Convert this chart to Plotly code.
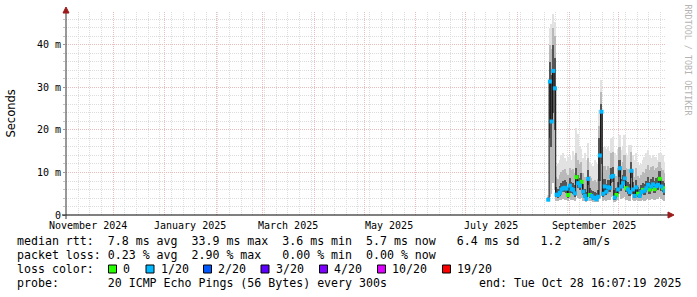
import plotly.graph_objects as go
import pandas as pd

# ---------------- data ----------------
start_day = "2025-08-19"
range_start = "2024-11-02 16:07:19"
range_end = "2025-10-28 16:07:19"

# daily median RTT (ms)
median_ms = [3.6, 31.4, 22.0, 33.9, 29.8, 4.8, 4.7, 5.2, 6.0, 6.3,
             6.4, 6.2, 4.7, 6.9, 6.1, 5.9, 5.1, 8.9, 7.5, 6.9,
             7.8, 5.5, 4.5, 3.8, 8.5, 4.7, 4.5, 4.1, 4.0, 3.7,
             4.3, 14.0, 24.3, 5.0, 6.7, 5.5, 6.5, 6.4, 9.0, 9.2,
             4.1, 4.7, 6.0, 11.0, 6.7, 7.5, 8.6, 6.3, 6.0, 5.4,
             10.4, 6.0, 4.5, 6.5, 5.0, 4.5, 5.4, 5.9, 5.7, 6.3,
             7.1, 6.0, 6.7, 7.2, 6.1, 6.8, 7.1, 8.5, 6.7, 6.3, 5.7]
# smoke: distribution of the individual pings (ms)
ping_min = [3.3, 4.2, 5.0, 7.5, 6.0, 3.4, 3.3, 3.5, 3.6, 3.7,
            3.6, 3.5, 3.2, 3.8, 3.6, 3.5, 3.3, 4.5, 4.0, 3.8,
            4.1, 3.4, 3.2, 3.1, 4.2, 3.2, 3.2, 3.1, 3.1, 3.0,
            3.1, 4.0, 4.5, 3.3, 3.6, 3.4, 3.6, 3.6, 4.3, 4.4,
            3.1, 3.2, 3.5, 5.0, 3.7, 3.9, 4.2, 3.6, 3.5, 3.4,
            4.7, 3.5, 3.2, 3.6, 3.3, 3.2, 3.4, 3.5, 3.4, 3.6,
            3.8, 3.5, 3.7, 3.8, 3.5, 3.7, 3.8, 4.2, 3.7, 3.6, 3.4]
ping_q25 = [3.4, 18.0, 16.0, 24.0, 20.0, 4.2, 4.1, 4.4, 5.0, 5.3,
            5.3, 5.2, 4.0, 5.8, 5.1, 5.0, 4.3, 7.5, 6.3, 5.8,
            6.6, 4.6, 3.9, 3.4, 7.0, 4.0, 3.9, 3.6, 3.5, 3.3,
            3.7, 8.0, 12.0, 4.2, 5.6, 4.6, 5.4, 5.3, 7.5, 7.7,
            3.6, 4.0, 5.0, 9.0, 5.6, 6.3, 7.2, 5.3, 5.0, 4.5,
            8.6, 5.0, 3.9, 5.4, 4.2, 3.9, 4.5, 4.9, 4.8, 5.3,
            6.0, 5.0, 5.6, 6.1, 5.1, 5.7, 6.0, 7.1, 5.6, 5.3, 4.8]
ping_q75 = [3.9, 36.0, 33.0, 40.0, 37.0, 6.5, 6.2, 6.8, 7.6, 8.0,
            8.2, 7.8, 6.5, 8.6, 7.8, 7.6, 7.0, 11.0, 9.5, 8.8,
            9.8, 7.2, 6.2, 5.5, 10.5, 6.4, 6.0, 5.6, 5.5, 5.2,
            5.8, 18.0, 26.0, 6.8, 8.5, 7.3, 8.3, 8.2, 11.0, 11.2,
            5.8, 6.3, 7.8, 13.0, 8.5, 9.4, 10.6, 8.0, 7.7, 7.2,
            12.4, 7.8, 6.1, 8.2, 6.7, 6.1, 7.1, 7.6, 7.4, 8.0,
            8.9, 7.8, 8.5, 9.0, 7.9, 8.6, 8.9, 10.3, 8.5, 8.0, 7.5]
ping_q90 = [4.3, 40.0, 39.0, 44.0, 42.0, 9.0, 8.5, 9.5, 10.2, 10.5,
            10.8, 10.0, 9.5, 11.0, 10.5, 10.8, 10.0, 14.5, 13.0, 12.0,
            12.5, 10.0, 9.0, 8.5, 13.5, 9.2, 8.8, 8.0, 8.2, 7.8,
            8.5, 21.0, 29.0, 10.0, 11.5, 10.5, 11.5, 11.0, 14.5, 14.8,
            9.0, 9.2, 11.0, 16.0, 11.5, 12.5, 14.0, 11.0, 10.8, 10.5,
            14.8, 10.5, 9.0, 11.0, 9.2, 8.8, 9.5, 10.2, 10.0, 10.8,
            11.8, 10.5, 11.2, 11.5, 10.5, 11.0, 11.2, 12.5, 11.0, 10.5, 10.0]
ping_max = [4.8, 44.0, 45.0, 47.3, 45.5, 11.5, 12.0, 13.0, 14.0, 14.5,
            13.5, 12.8, 13.6, 14.2, 13.0, 15.0, 14.0, 20.5, 19.0, 16.0,
            15.5, 13.5, 14.5, 13.0, 17.0, 12.5, 12.0, 11.6, 13.0, 12.5,
            12.0, 24.7, 31.8, 15.0, 16.1, 15.5, 16.1, 15.0, 18.0, 18.4,
            14.5, 14.1, 15.5, 18.8, 15.3, 16.0, 18.8, 14.5, 14.0, 16.5,
            16.5, 14.0, 13.0, 14.5, 12.5, 11.8, 12.0, 13.0, 13.7, 14.5,
            15.3, 14.0, 13.3, 14.0, 13.7, 13.7, 13.0, 14.5, 14.5, 14.0, 12.5]
# lost pings (out of 20) per step
loss_count = [1, 1, 1, 1, 1, 1, 1, 1, 1, 1,
              1, 1, 0, 1, 1, 1, 1, 0, 1, 1,
              0, 1, 1, 1, 1, 0, 1, 1, 1, 1,
              1, 1, 1, 1, 1, 1, 1, 1, 1, 1,
              1, 0, 1, 1, 1, 1, 1, 0, 1, 1,
              1, 1, 1, 1, 0, 1, 1, 0, 1, 1,
              1, 0, 1, 1, 0, 1, 1, 0, 1, 0, 1]

loss_buckets = ["0", "1/20", "2/20", "3/20", "4/20", "10/20", "19/20"]
loss_colors = ["#26ff00", "#00b8ff", "#0059ff", "#5e00ff", "#7e00ff", "#dd00ff", "#ff0000"]

y_tick_vals = [0, 10, 20, 30, 40]
y_tick_text = ["0", "10 m", "20 m", "30 m", "40 m"]
label_months = ["2024-11", "2025-01", "2025-03", "2025-05", "2025-07", "2025-09"]
label_texts = ["November 2024", "January 2025", "March 2025", "May 2025", "July 2025", "September 2025"]

legend_lines = [
    "median rtt:  7.8 ms avg  33.9 ms max  3.6 ms min  5.7 ms now   6.4 ms sd   1.2   am/s",
    "packet loss: 0.23 % avg  2.90 % max   0.00 % min  0.00 % now",
    "loss color:",
    "probe:       20 ICMP Echo Pings (56 Bytes) every 300s",
]
end_text = "end: Tue Oct 28 16:07:19 2025"

# ---------------- layout geometry ----------------
W, H = 697, 297
L, R, T, B = 66, 32, 12, 82
PW, PH = W - L - R, H - T - B
Y_MAX = 47.76


def px(x):
    return (x - L) / PW


def py(y):
    return (H - B - y) / PH


MONO = "DejaVu Sans Mono"
days = pd.date_range(start_day, periods=len(median_ms), freq="D") + pd.Timedelta(hours=12)
day_ms = 86400000

fig = go.Figure()


def smoke(lo, hi, color):
    fig.add_trace(go.Bar(
        x=days, y=[h - l for l, h in zip(lo, hi)], base=lo, width=day_ms,
        marker=dict(color=color, line=dict(width=0)), hoverinfo="skip", showlegend=False))


smoke(ping_min, ping_max, "#e2e2e2")
smoke(ping_min, ping_q90, "#b9b9b9")
smoke(ping_q25, ping_q75, "#555555")

fig.add_trace(go.Scatter(x=days, y=median_ms, mode="lines", line=dict(color="#101010", width=1, shape="hvh"),
                         hoverinfo="skip", showlegend=False))
for b, col in enumerate(loss_colors):
    xs = [d for d, lc in zip(days, loss_count) if lc == b]
    ys = [m for m, lc in zip(median_ms, loss_count) if lc == b]
    if xs:
        fig.add_trace(go.Scatter(x=xs, y=ys, mode="markers",
                                 marker=dict(symbol="square", size=4, color=col, line=dict(width=0)),
                                 hoverinfo="skip", showlegend=False))

month_starts = pd.date_range("2024-12-01", "2025-10-01", freq="MS")
week_starts = pd.date_range("2024-11-03", "2025-10-28", freq="W-SUN")

GRID_MAJOR = "#ebbcbc"
GRID_MINOR = "#dddddd"

fig.update_layout(
    width=W, height=H, margin=dict(l=L, r=R, t=T, b=B),
    paper_bgcolor="white", plot_bgcolor="white", barmode="overlay", bargap=0,
    showlegend=False,
    xaxis=dict(type="date", range=[range_start, range_end], showline=False, zeroline=False,
               tickmode="array", tickvals=list(month_starts), showticklabels=False, ticks="",
               showgrid=True, gridcolor=GRID_MAJOR, griddash="1px,1px", gridwidth=1,
               minor=dict(tickmode="array", tickvals=list(week_starts), showgrid=True,
                          gridcolor=GRID_MINOR, griddash="1px,1px", gridwidth=1, ticks="")),
    yaxis=dict(range=[0, Y_MAX], showline=False, zeroline=False,
               tickmode="array", tickvals=y_tick_vals, ticktext=y_tick_text,
               tickfont=dict(family=MONO, size=10, color="#000"),
               ticks="outside", ticklen=2, tickcolor="#999",
               showgrid=True, gridcolor=GRID_MAJOR, griddash="1px,1px", gridwidth=1,
               minor=dict(dtick=2, showgrid=True, gridcolor=GRID_MINOR, griddash="1px,1px",
                          ticks="outside", ticklen=2, tickcolor="#c4c4c4")),
)

shapes = []
# axes with arrows
shapes.append(dict(type="line", xref="paper", yref="paper", x0=px(62), x1=px(669), y0=0, y1=0,
                   line=dict(color="#000", width=1)))
shapes.append(dict(type="line", xref="paper", yref="paper", x0=0, x1=0, y0=py(219), y1=py(11),
                   line=dict(color="#333", width=1)))
shapes.append(dict(type="path", xref="paper", yref="paper",
                   path=f"M {px(668)} {py(212)} L {px(674)} {py(215)} L {px(668)} {py(218)} Z",
                   fillcolor="#9b1b1b", line=dict(color="#9b1b1b", width=1)))
shapes.append(dict(type="path", xref="paper", yref="paper",
                   path=f"M {px(63)} {py(13)} L {px(66)} {py(7)} L {px(69)} {py(13)} Z",
                   fillcolor="#9b1b1b", line=dict(color="#9b1b1b", width=1)))

annotations = []
# month labels
for m, t in zip(label_months, label_texts):
    xd = pd.Timestamp(m + "-01") + pd.Timedelta(days=15)
    annotations.append(dict(x=xd, xref="x", y=py(225.5), yref="paper", text=t, showarrow=False,
                            xanchor="center", yanchor="middle", font=dict(family=MONO, size=10, color="#000")))

line_y = [241, 255, 269, 283]
for txt, yy in zip(legend_lines, line_y):
    annotations.append(dict(x=px(16), xref="paper", y=py(yy), yref="paper", text=txt, showarrow=False,
                            xanchor="left", yanchor="middle", borderpad=0,
                            font=dict(family=MONO, size=11.6, color="#000")))
annotations.append(dict(x=px(478), xref="paper", y=py(283), yref="paper", text=end_text, showarrow=False,
                        xanchor="left", yanchor="middle", borderpad=0,
                        font=dict(family=MONO, size=11.6, color="#000")))

box_left = [108.5, 146, 203.5, 261, 319.5, 377.5, 442.5]
for bl, col, lab in zip(box_left, loss_colors, loss_buckets):
    shapes.append(dict(type="rect", xref="paper", yref="paper", x0=px(bl), x1=px(bl + 8),
                       y0=py(273), y1=py(265), fillcolor=col, line=dict(color="#000", width=1)))
    annotations.append(dict(x=px(bl + 13.5), xref="paper", y=py(269), yref="paper", text=lab,
                            showarrow=False, xanchor="left", yanchor="middle", borderpad=0,
                            font=dict(family=MONO, size=11.6, color="#000")))

annotations.append(dict(x=px(10), xref="paper", y=py(113.5), yref="paper", text="Seconds", textangle=-90,
                        showarrow=False, xanchor="center", yanchor="middle",
                        font=dict(family="DejaVu Sans", size=11.5, color="#000")))
annotations.append(dict(x=px(687.5), xref="paper", y=py(60), yref="paper", text="RRDTOOL / TOBI OETIKER",
                        textangle=90, showarrow=False, xanchor="center", yanchor="middle",
                        font=dict(family=MONO, size=8.4, color="#b4b4b4")))

fig.update_layout(shapes=shapes, annotations=annotations)
fig.write_html("out.html")
